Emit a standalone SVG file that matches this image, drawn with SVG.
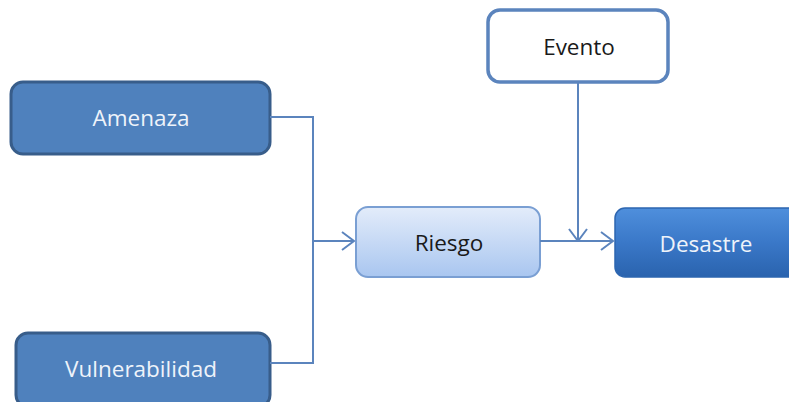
<svg xmlns="http://www.w3.org/2000/svg" width="789" height="402" viewBox="0 0 789 402">
<defs>
<linearGradient id="gRiesgo" x1="0" y1="0" x2="0" y2="1">
<stop offset="0" stop-color="#e3ecfa"/>
<stop offset="1" stop-color="#a9c6f0"/>
</linearGradient>
<linearGradient id="gDes" x1="0" y1="0" x2="0" y2="1">
<stop offset="0" stop-color="#4f8fdc"/>
<stop offset="0.5" stop-color="#3a78c8"/>
<stop offset="1" stop-color="#2a63ae"/>
</linearGradient>
<marker id="chev" viewBox="0 0 14 20" refX="13" refY="10" markerWidth="14" markerHeight="20" markerUnits="userSpaceOnUse" orient="auto">
<path d="M1 1 L13 10 L1 19" fill="none" stroke="#5b84bd" stroke-width="2"/>
</marker>
</defs>
<style>
.dark{fill:#4f81bd;stroke:#385d8a;stroke-width:3}
.lbl{font-family:"Open Sans","Liberation Sans",sans-serif;font-size:22.5px;text-anchor:middle;dominant-baseline:central}
.wt{fill:#eef3fa}
.bk{fill:#1a1a1a}
.con{fill:none;stroke:#5b84bd;stroke-width:2}
</style>
<rect width="789" height="402" fill="#ffffff"/>
<g id="amenaza">
<rect class="dark" x="11" y="82" width="259" height="72" rx="12"/>
<text class="lbl wt" x="141" y="117">Amenaza</text>
</g>
<g id="vulnerabilidad">
<rect class="dark" x="16" y="333" width="254" height="74" rx="12"/>
<text class="lbl wt" x="141" y="368">Vulnerabilidad</text>
</g>
<g id="riesgo">
<rect x="356" y="207" width="184" height="70" rx="12" fill="url(#gRiesgo)" stroke="#7a9fd3" stroke-width="2"/>
<text class="lbl bk" x="449" y="242">Riesgo</text>
</g>
<g id="evento">
<rect x="488" y="10" width="180" height="72" rx="12" fill="#ffffff" stroke="#5b84bd" stroke-width="3.5"/>
<text class="lbl bk" x="579" y="46">Evento</text>
</g>
<g id="desastre">
<rect x="615" y="208" width="190" height="69" rx="10" fill="url(#gDes)" stroke="#2d66b0" stroke-width="1.5"/>
<text class="lbl wt" x="706" y="243">Desastre</text>
</g>
<g id="connectors">
<polyline class="con" points="270,117 313,117 313,363 270,363"/>
<line class="con" x1="313" y1="241" x2="354" y2="241" marker-end="url(#chev)"/>
<line class="con" x1="540" y1="241" x2="613" y2="241" marker-end="url(#chev)"/>
<line class="con" x1="578" y1="83" x2="578" y2="241" marker-end="url(#chev)"/>
</g>
</svg>
